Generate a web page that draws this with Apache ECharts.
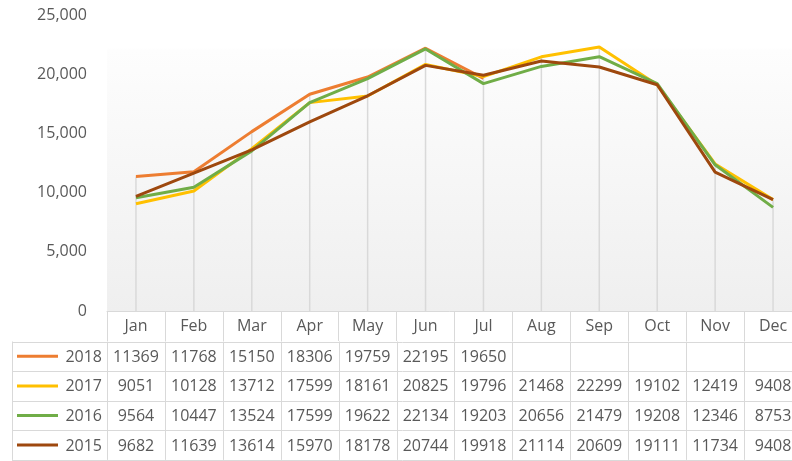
<!DOCTYPE html>
<html>
<head>
<meta charset="utf-8">
<script src="https://cdn.jsdelivr.net/npm/echarts@6/dist/echarts.min.js"></script>
<style>
  html, body { margin: 0; padding: 0; background: #fff; }
  #chart { width: 792px; height: 461px; }
</style>
</head>
<body>
<div id="chart"></div>
<script>
// data
const months = ['Jan', 'Feb', 'Mar', 'Apr', 'May', 'Jun', 'Jul', 'Aug', 'Sep', 'Oct', 'Nov', 'Dec']
const years = ['2018', '2017', '2016', '2015']
const v2018 = [11369, 11768, 15150, 18306, 19759, 22195, 19650, null, null, null, null, null]
const v2017 = [9051, 10128, 13712, 17599, 18161, 20825, 19796, 21468, 22299, 19102, 12419, 9408]
const v2016 = [9564, 10447, 13524, 17599, 19622, 22134, 19203, 20656, 21479, 19208, 12346, 8753]
const v2015 = [9682, 11639, 13614, 15970, 18178, 20744, 19918, 21114, 20609, 19111, 11734, 9408]
const yTicks = [0, 5000, 10000, 15000, 20000, 25000]

const seriesValues = [v2018, v2017, v2016, v2015]
const colors = ['#ED7D31', '#FFC000', '#70AD47', '#9E480E']
const font = '"Open Sans", "Noto Sans", sans-serif'
const textColor = '#595959'
const borderColor = '#d9d9d9'

// 下落线：每个月取各年份最大值
const dropMax = months.map((m, i) => {
  const vals = seriesValues.map(s => s[i]).filter(v => v != null)
  return [i, Math.max(...vals)]
})

const chart = echarts.init(document.getElementById('chart'))

const option = {
  animation: false,
  grid: {
    left: 107,
    width: 695,
    top: 15,
    bottom: 150,
    outerBoundsMode: 'none',
    show: true,
    borderWidth: 0,
    backgroundColor: {
      type: 'linear', x: 0, y: 0, x2: 0, y2: 1,
      colorStops: [
        { offset: 0, color: '#ffffff' },
        { offset: 0.11, color: '#ffffff' },
        { offset: 0.12, color: '#fdfdfd' },
        { offset: 1, color: '#efefef' }
      ]
    }
  },
  xAxis: {
    type: 'category',
    data: months,
    boundaryGap: true,
    axisLine: { show: true, lineStyle: { color: borderColor, width: 1 } },
    axisTick: { show: true, length: 30, interval: 0, lineStyle: { color: borderColor } },
    axisLabel: { color: textColor, fontSize: 16, fontFamily: font, margin: 7, interval: 0 },
    splitLine: { show: false }
  },
  yAxis: {
    type: 'value',
    min: yTicks[0],
    max: yTicks[yTicks.length - 1],
    interval: yTicks[1] - yTicks[0],
    axisLine: { show: false },
    axisTick: { show: false },
    splitLine: { show: false },
    axisLabel: {
      color: textColor, fontSize: 16, fontFamily: font, margin: 20,
      formatter: v => v.toLocaleString('en-US')
    }
  },
  series: [
    {
      type: 'custom',
      z: 1,
      silent: true,
      data: dropMax,
      renderItem: (params, api) => {
        const top = api.coord([api.value(0), api.value(1)])
        const bottom = api.coord([api.value(0), 0])
        return {
          type: 'line',
          shape: { x1: top[0], y1: top[1], x2: bottom[0], y2: bottom[1] },
          style: { stroke: borderColor, lineWidth: 1.5 }
        }
      }
    },
    ...years.map((y, k) => ({
      name: y,
      type: 'line',
      z: 2 + k,
      data: seriesValues[k],
      symbol: 'none',
      connectNulls: false,
      lineStyle: { color: colors[k], width: 3 },
      itemStyle: { color: colors[k] }
    }))
  ]
}

chart.setOption(option)

// 数据表：用图表坐标算出列位置
function buildTable() {
  const c0 = chart.convertToPixel({ xAxisIndex: 0 }, 0)
  const c1 = chart.convertToPixel({ xAxisIndex: 0 }, 1)
  const step = c1 - c0
  const axisY = chart.convertToPixel({ yAxisIndex: 0 }, 0)
  const headerH = 30.5
  const rowH = 29.6
  const tableLeft = 12
  const rightEdge = c0 - step / 2 + step * months.length
  const els = []

  const hline = (x1, x2, y) => els.push({
    type: 'line', silent: true,
    shape: { x1: x1, y1: Math.round(y) + 0.5, x2: x2, y2: Math.round(y) + 0.5 },
    style: { stroke: borderColor, lineWidth: 1 }
  })
  const vline = (x, y1, y2) => els.push({
    type: 'line', silent: true,
    shape: { x1: Math.round(x) + 0.5, y1: y1, x2: Math.round(x) + 0.5, y2: y2 },
    style: { stroke: borderColor, lineWidth: 1 }
  })

  const firstRowTop = axisY + headerH
  for (let r = 0; r <= years.length; r++) {
    hline(tableLeft, rightEdge, firstRowTop + r * rowH)
  }
  const tableBottom = firstRowTop + years.length * rowH
  vline(tableLeft, firstRowTop, tableBottom)
  for (let i = 0; i <= months.length; i++) {
    vline(c0 - step / 2 + i * step, firstRowTop, tableBottom)
  }

  years.forEach((y, k) => {
    const cy = firstRowTop + k * rowH + rowH / 2
    // 图例线
    els.push({
      type: 'line', silent: true,
      shape: { x1: 17, y1: cy, x2: 58, y2: cy },
      style: { stroke: colors[k], lineWidth: 3 }
    })
    els.push({
      type: 'text', silent: true,
      style: {
        text: y, x: c0 - step / 2 - 5, y: cy + 1,
        align: 'right', verticalAlign: 'middle',
        fontSize: 16, fontFamily: font, fill: textColor
      }
    })
    seriesValues[k].forEach((v, i) => {
      if (v == null) return
      els.push({
        type: 'text', silent: true,
        style: {
          text: String(v), x: c0 + i * step, y: cy + 1,
          align: 'center', verticalAlign: 'middle',
          fontSize: 16, fontFamily: font, fill: textColor
        }
      })
    })
  })

  chart.setOption({ graphic: { elements: els } })
}

buildTable()
</script>
</body>
</html>
